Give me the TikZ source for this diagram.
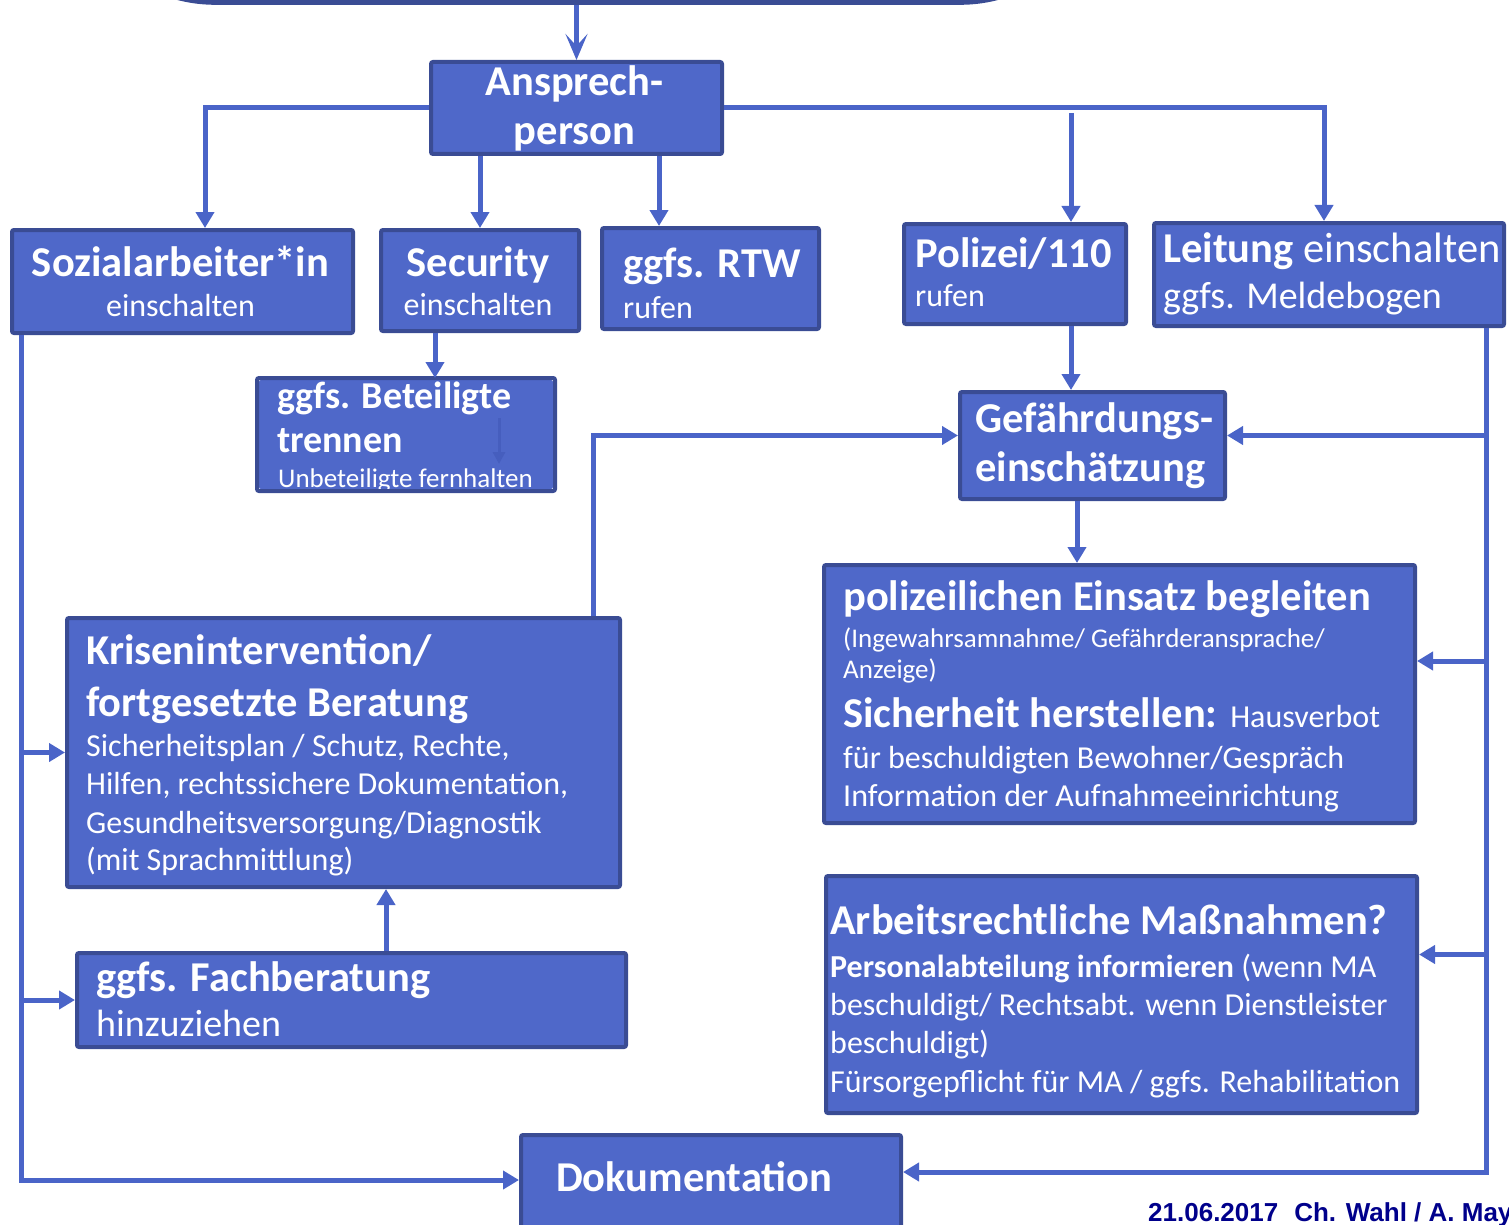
\documentclass[tikz,border=0pt]{standalone}
\usepackage{fontspec}
\setmainfont{Carlito}
\newfontfamily\footfont{Liberation Sans}
\usetikzlibrary{arrows.meta}
\definecolor{boxfill}{RGB}{79,104,201}
\definecolor{bord}{RGB}{58,76,148}
\definecolor{lncol}{RGB}{74,100,200}
\definecolor{footcol}{RGB}{0,0,139}
\definecolor{ghost}{RGB}{70,94,190}
\newcommand{\HdFont}{\fontsize{42.5}{50}\selectfont\bfseries}
\newcommand{\MdFont}{\fontsize{38}{45}\selectfont}
\newcommand{\BdFont}{\fontsize{32}{38}\selectfont}
\newcommand{\SmFont}{\fontsize{27}{32}\selectfont}
\tikzset{
  box/.style={draw=bord, fill=boxfill, line width=4pt, rounded corners=2pt, inner sep=0pt, anchor=north west},
  tl/.style={anchor=base west, text=white, inner sep=0pt},
  tc/.style={anchor=base, text=white, inner sep=0pt},
  arr/.style={draw=lncol, line width=5pt, -{Triangle[length=16pt,width=18pt]}},
  ln/.style={draw=lncol, line width=5pt},
}
\begin{document}
\begin{tikzpicture}[x=1pt,y=-1pt]
\useasboundingbox (0,0) rectangle (1509,1225);
% top partial box
\node[fill=bord, rounded corners=150pt, minimum width=1045pt, minimum height=400pt, inner sep=0pt, anchor=south west] (topbox) at (65,5) {};

% boxes
\node[box, minimum width=291pt, minimum height=92pt] (ans) at (429,60) {};
\node[box, minimum width=341pt, minimum height=103pt] (soz) at (10,228) {};
\node[box, minimum width=198pt, minimum height=101pt] (sec) at (379,228) {};
\node[box, minimum width=217pt, minimum height=101pt] (rtw) at (600,226) {};
\node[box, minimum width=222pt, minimum height=100pt] (pol) at (902,222) {};
\node[box, minimum width=350pt, minimum height=103pt] (leit) at (1152,221) {};
\node[box, draw=none, minimum width=294pt, minimum height=109pt] (bet) at (257,378) {};
\node[box, minimum width=265pt, minimum height=107pt] (gef) at (958,390) {};
\node[box, minimum width=591pt, minimum height=258pt] (pe) at (822,563) {};
\node[box, minimum width=553pt, minimum height=269pt] (kri) at (65,616) {};
\node[box, minimum width=549pt, minimum height=94pt] (fach) at (75,951) {};
\node[box, minimum width=591pt, minimum height=237pt] (arb) at (824,874) {};
\node[box, minimum width=380pt, minimum height=130pt] (dok) at (519,1133) {};

% texts
\node[tc] (ans1) at (574.5,96) {\HdFont Ansprech-};
\node[tc] (ans2) at (574.5,145) {\HdFont person};

\node[tc] (soz1) at (180.5,276) {\HdFont Sozialarbeiter*in};
\node[tc] (soz2) at (180.5,316) {\BdFont einschalten};

\node[tc] (sec1) at (478,276) {\HdFont Security};
\node[tc] (sec2) at (478,315) {\BdFont einschalten};

\node[tl] (rtw1) at (623,277) {\HdFont ggfs. RTW};
\node[tl] (rtw2) at (623,318) {\BdFont rufen};

\node[tl] (pol1) at (915,267) {\HdFont Polizei/110};
\node[tl] (pol2) at (915,306) {\BdFont rufen};

\node[tl] (leit1) at (1163,262) {\fontsize{42.5}{50}\selectfont\textbf{Leitung} einschalten};
\node[tl] (leit2) at (1163,308) {\MdFont ggfs. Meldebogen};

\node[tl] (bet1) at (277,408) {\fontsize{38}{45}\selectfont\bfseries ggfs. Beteiligte};
\node[tl] (bet2) at (277,452) {\fontsize{38}{45}\selectfont\bfseries trennen};
\node[tl] (bet3) at (278,487) {\SmFont Unbeteiligte fernhalten};
\draw[ghost, line width=3pt, -{Triangle[length=12pt,width=12pt]}] (bet.north east) ++(-56,40) -- ++(0,46);
\draw[bord, line width=4pt, rounded corners=2pt] (bet.north west) rectangle (bet.south east);

\node[tl] (gef1) at (975,432) {\HdFont Gefährdungs-};
\node[tl] (gef2) at (975,481) {\HdFont einschätzung};

\node[tl] (pe1) at (843,610) {\HdFont polizeilichen Einsatz begleiten};
\node[tl] (pe2) at (843,647) {\SmFont (Ingewahrsamnahme/ Gefährderansprache/};
\node[tl] (pe3) at (843,678) {\SmFont Anzeige)};
\node[tl] (pe4) at (843,727) {\HdFont Sicherheit herstellen: \mdseries\BdFont Hausverbot};
\node[tl] (pe5) at (843,768) {\BdFont für beschuldigten Bewohner/Gespräch};
\node[tl] (pe6) at (843,806) {\BdFont Information der Aufnahmeeinrichtung};

\node[tl] (kri1) at (86,664) {\HdFont Krisenintervention/};
\node[tl] (kri2) at (86,716) {\HdFont fortgesetzte Beratung};
\node[tl] (kri3) at (86,756) {\BdFont Sicherheitsplan / Schutz, Rechte,};
\node[tl] (kri4) at (86,794) {\BdFont Hilfen, rechtssichere Dokumentation,};
\node[tl] (kri5) at (86,833) {\BdFont Gesundheitsversorgung/Diagnostik};
\node[tl] (kri6) at (86,870) {\BdFont (mit Sprachmittlung)};

\node[tl] (fach1) at (96,991) {\HdFont ggfs. Fachberatung};
\node[tl] (fach2) at (96,1036) {\MdFont hinzuziehen};

\node[tl] (arb1) at (830,934) {\HdFont Arbeitsrechtliche Maßnahmen?};
\node[tl] (arb2) at (830,977) {\BdFont\textbf{Personalabteilung informieren} (wenn MA};
\node[tl] (arb3) at (830,1015) {\BdFont beschuldigt/ Rechtsabt. wenn Dienstleister};
\node[tl] (arb4) at (830,1053) {\BdFont beschuldigt)};
\node[tl] (arb5) at (830,1092) {\BdFont Fürsorgepflicht für MA / ggfs. Rehabilitation};

\node[tl] (dok1) at (556,1191) {\HdFont Dokumentation};

\node[anchor=base west, inner sep=0pt, text=footcol] (foot) at (1148,1221) {\footfont\bfseries\fontsize{26}{30}\selectfont 21.06.2017\hspace{16pt}Ch. Wahl / A. May};

% connectors
\draw[draw=lncol, line width=5pt, -{Stealth[length=26pt,width=22pt,inset=12pt]}] (ans.north |- topbox.south) -- (ans.north);
\draw[arr] (ans.west) -| ([xshift=22.5pt]soz.north);
\draw[arr] (ans.south -| sec.north) -- (sec.north);
\draw[arr] ([xshift=-65pt]ans.south east) -- ([xshift=-65pt]ans.south east |- rtw.north);
\draw[arr] (ans.east) -| ([xshift=-5pt]leit.north);
\coordinate (polsrc) at (1071,113);
\draw[arr] (polsrc) -- (polsrc |- pol.north);
\draw[arr] (polsrc |- pol.south) -- (polsrc |- gef.north);
\draw[arr] ([xshift=-45pt]sec.south) -- ([xshift=-45pt]sec.south |- bet.north);
\draw[arr] ([xshift=-15.5pt]gef.south) -- ([xshift=-15.5pt]gef.south |- pe.north);

% right bus
\coordinate (rb) at (1486,1172);
\draw[arr] (leit.south -| rb) -- (rb) -- (rb -| dok.east);
\draw[arr] ([yshift=10pt]gef.east -| rb) -- ([yshift=10pt]gef.east);
\draw[arr] ([yshift=33pt]pe.east -| rb) -- ([yshift=33pt]pe.east);
\draw[arr] ([yshift=40pt]arb.east -| rb) -- ([yshift=40pt]arb.east);

% left bus
\coordinate (lb) at (21,1180);
\draw[arr] (soz.south -| lb) -- (lb) -- (lb -| dok.west);
\draw[arr] (kri.west -| lb) -- (kri.west);
\draw[arr] (fach.west -| lb) -- (fach.west);

\draw[arr] ([xshift=-29pt]kri.north east) |- ([yshift=10pt]gef.west);
\draw[arr] ([xshift=34.5pt]fach.north) -- ([xshift=34.5pt]fach.north |- kri.south);
\end{tikzpicture}
\end{document}
